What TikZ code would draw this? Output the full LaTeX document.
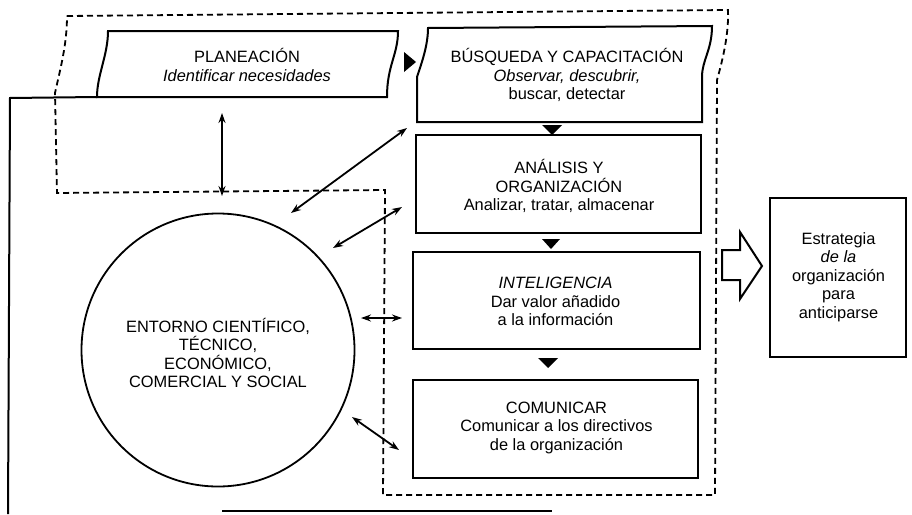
\documentclass[tikz,border=0pt]{standalone}
\usepackage{fontspec}
\setmainfont{Liberation Sans}
\usetikzlibrary{arrows.meta}
\tikzset{
  txt/.style={align=center, font=\fontsize{16.4}{18.5}\selectfont, inner sep=0pt},
  boxline/.style={line width=2pt, line join=miter},
  plainbox/.style={draw, line width=2pt, inner sep=0pt},
  dashline/.style={line width=1.8pt, dash pattern=on 6pt off 4pt},
  dbl/.style={line width=1.8pt, {Stealth[length=10pt,width=7pt]}-{Stealth[length=10pt,width=7pt]}},
  tri/.style={fill=black, draw=none},
}
\begin{document}
\begin{tikzpicture}[x=1pt,y=-1pt]
\useasboundingbox (0,0) rectangle (912,514);
\fill[white] (0,0) rectangle (912,514);

% dashed outline
\draw[dashline] (67,16) -- (728,10)
  .. controls (729,35) and (722,62) .. (717,80)
  -- (715,495) -- (383,495) -- (385,190) -- (57,193) -- (55,93)
  .. controls (60,70) and (67,45) .. cycle;

% Planeacion box (wavy sides)
\draw[boxline] (97,97) .. controls (97,75) and (108,55) .. (108,31)
  -- (398,31) .. controls (398,55) and (387,65) .. (387,97) -- cycle;
\node[txt] (plan) at (247,65) {PLANEACIÓN\\\textit{Identificar necesidades}};

% left solid line continuing from Planeacion bottom
\draw[line width=2pt] (97,97) -- (10,98) -- (8,514);
% bottom line
\draw[line width=2pt] (222,511) -- (552,511);

% Busqueda box
\draw[boxline] (417,122) -- (417,77) .. controls (422,62) and (428,45) .. (428,28)
  -- (712,26) .. controls (712,50) and (702,60) .. (702,77) -- (702,122) -- cycle;
\node[txt] (busq) at (567,75) {BÚSQUEDA Y CAPACITACIÓN\\\textit{Observar, descubrir,}\\buscar, detectar};

% other boxes
\node[plainbox, minimum width=285pt, minimum height=98pt] (anal) at (558.5,184) {};
\node[txt] (analt) at (559,186) {ANÁLISIS Y\\ORGANIZACIÓN\\Analizar, tratar, almacenar};
\node[plainbox, minimum width=287pt, minimum height=97pt] (intel) at (556.5,300.5) {};
\node[txt] (intelt) at (555.5,301.5) {\textit{INTELIGENCIA}\\Dar valor añadido\\a la información};
\node[plainbox, minimum width=285pt, minimum height=98pt] (comu) at (555.5,429) {};
\node[txt] (comut) at (556.5,427.5) {COMUNICAR\\Comunicar a los directivos\\de la organización};
\node[plainbox, minimum width=136pt, minimum height=159pt] (estr) at (838,277.5) {};
\node[txt] (estrt) at (838.5,277) {Estrategia\\\textit{de la}\\organización\\para\\anticiparse};

% circle
\node[draw, circle, line width=1.8pt, minimum size=273pt, inner sep=0pt] (ent) at (218,350) {};
\node[txt] (entt) at (218,353) {ENTORNO CIENTÍFICO,\\TÉCNICO,\\ECONÓMICO,\\COMERCIAL Y SOCIAL};

% small triangles
\fill[tri] (404,52) -- (416,62) -- (404,72) -- cycle;
\fill[tri] (542,125) -- (562,125) -- (552,135) -- cycle;
\fill[tri] (542,239) -- (560,239) -- (551,249) -- cycle;
\fill[tri] (538,358) -- (558,358) -- (548,368) -- cycle;

% block arrow
\draw[line width=2pt, line join=miter] (722,250) -- (740,250) -- (740,232) -- (762,266)
  -- (740,299) -- (740,280) -- (722,280) -- cycle;

% double arrows
\coordinate (a1s) at (222,113); \coordinate (a1e) at (222,196);
\coordinate (a2s) at (291,213); \coordinate (a2e) at (407,128);
\coordinate (a3s) at (333,248); \coordinate (a3e) at (402,207);
\coordinate (a4s) at (361,318); \coordinate (a4e) at (402,318);
\coordinate (a5s) at (352,417); \coordinate (a5e) at (399,450);
\draw[dbl] (a1s) -- (a1e);
\draw[dbl] (a2s) -- (a2e);
\draw[dbl] (a3s) -- (a3e);
\draw[dbl] (a4s) -- (a4e);
\draw[dbl] (a5s) -- (a5e);
\end{tikzpicture}
\end{document}
